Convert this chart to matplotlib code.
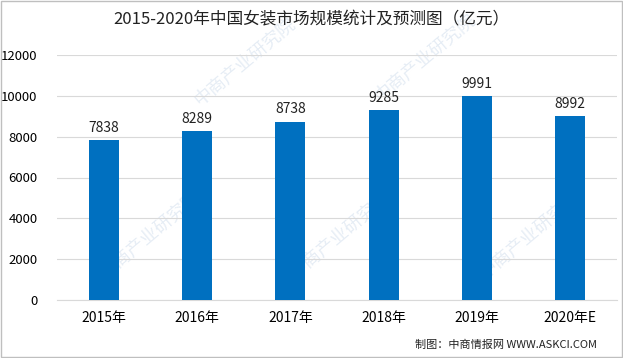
import matplotlib.pyplot as plt
import numpy as np

plt.rcParams['font.family'] = ['Noto Sans CJK SC', 'DejaVu Sans']

years = ['2015年', '2016年', '2017年', '2018年', '2019年', '2020年E']
values = [7838, 8289, 8738, 9285, 9991, 8992]
yticks = [0, 2000, 4000, 6000, 8000, 10000, 12000]

fig = plt.figure(figsize=(6.23, 3.58), dpi=100)
ax = fig.add_axes([57/623, 1 - 300/358, 560/623, 245/358])

# faint watermark, kept behind the bars
for (wx, wy) in [(245, 62), (425, 58), (150, 235), (340, 235), (530, 235)]:
    fig.text(wx/623, 1 - wy/358, '中商产业研究院', rotation=40, fontsize=13, color='#e6edf5',
             ha='center', va='center', zorder=-1)

x = np.arange(len(years))
ax.bar(x, values, width=0.32, color='#0070C0', zorder=3)
for xi, v in zip(x, values):
    ax.text(xi, v + 250, str(v), ha='center', va='bottom', fontsize=10, color='#222222')

ax.set_xlim(-0.5, len(years) - 0.5)
ax.set_ylim(0, 12000)
ax.set_yticks(yticks)
ax.set_xticks(x)
ax.set_xticklabels(years, fontsize=10)
ax.tick_params(axis='y', labelsize=9.5, length=0, pad=14)
ax.tick_params(axis='x', length=0, pad=8)
ax.grid(axis='y', color='#d9d9d9', linewidth=0.8, zorder=0)
for s in ['top', 'right', 'left']:
    ax.spines[s].set_visible(False)
ax.spines['bottom'].set_color('#d9d9d9')
ax.patch.set_alpha(0)

fig.text(0.5, 1 - 20/358, '2015-2020年中国女装市场规模统计及预测图（亿元）',
         ha='center', va='center', fontsize=12, color='#222222')
fig.text(597/623, 1 - 345/358, '制图：中商情报网 WWW.ASKCI.COM',
         ha='right', va='center', fontsize=8, color='#222222')

# outer frame
fig.patches.append(plt.Rectangle((0.002, 0.003), 0.996, 0.994, transform=fig.transFigure,
                                 fill=False, edgecolor='#bfbfbf', linewidth=1))

fig.savefig('out.png', dpi=100)
